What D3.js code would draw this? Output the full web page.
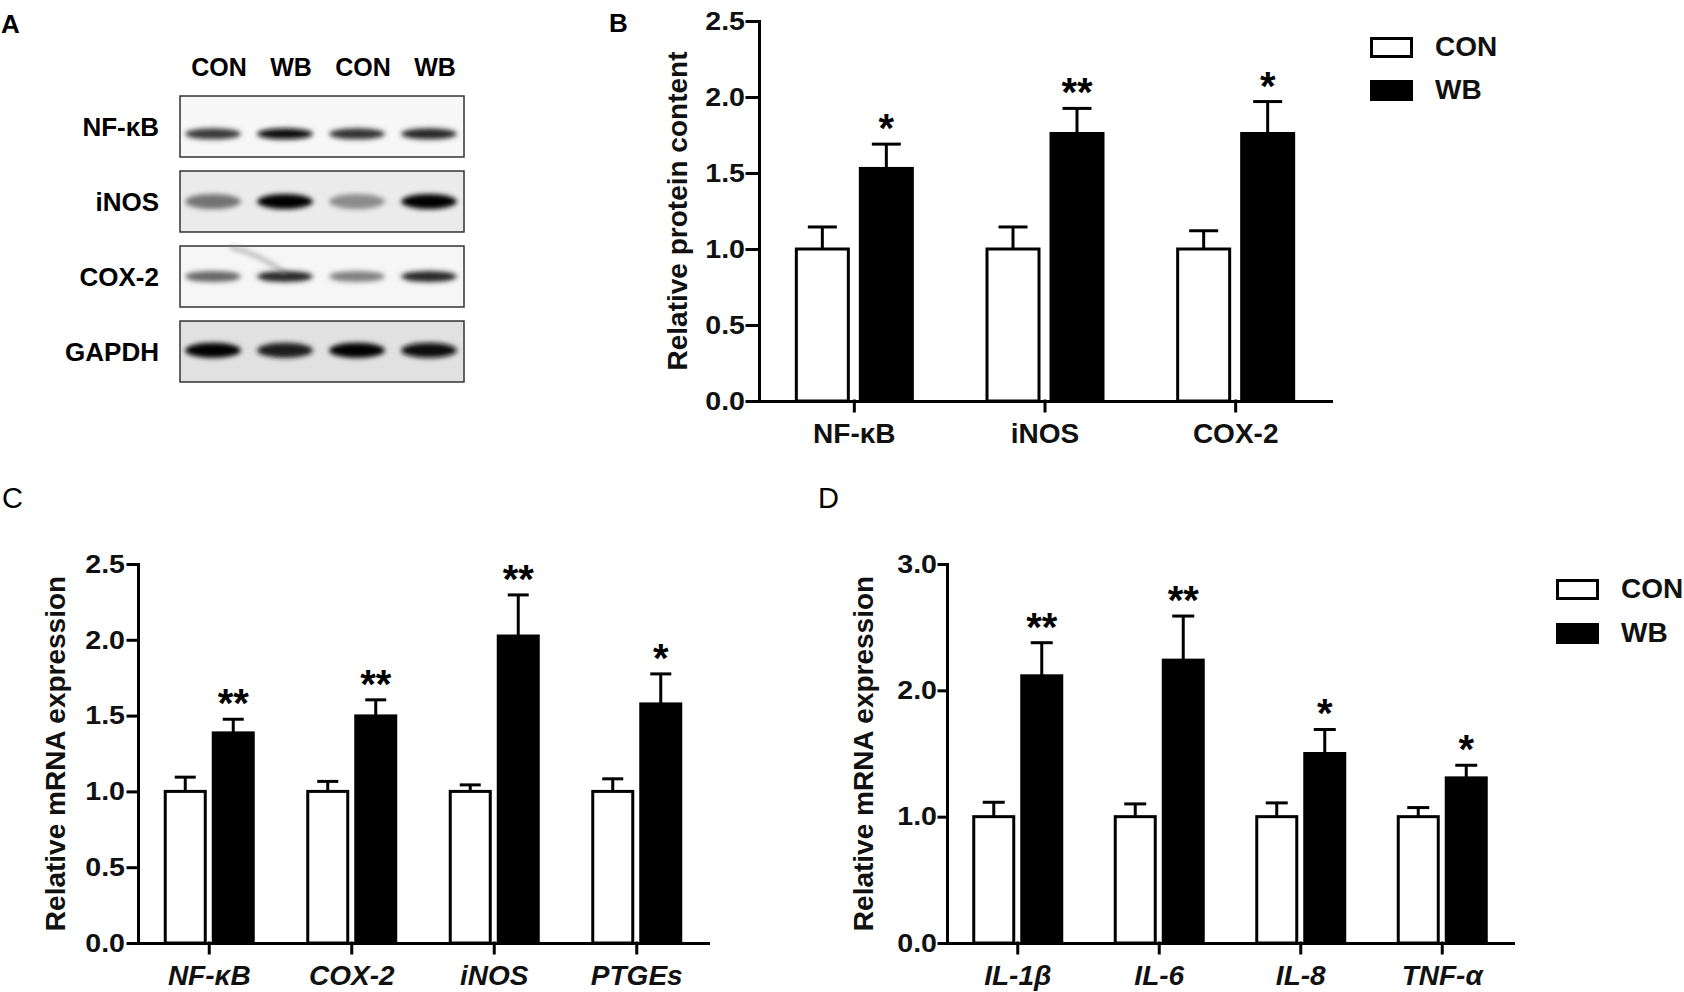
<!DOCTYPE html>
<html>
<head>
	<meta charset='utf-8'>
	<script src="https://cdnjs.cloudflare.com/ajax/libs/d3/7.8.5/d3.min.js" charset="utf-8"></script>
	<style>
	body {
		margin:0;
		background:#fff;
	}
	text {
		font-family:"Liberation Sans", Arial, sans-serif;
		font-weight:bold;
	}
	</style>
</head>

<body>
	<script>

	var width = 1684,
		height = 992;

	// panel A : blot
	var blotLanes = ['CON', 'WB', 'CON', 'WB'];
	var blotRows = ['NF-κB', 'iNOS', 'COX-2', 'GAPDH'];
	var blotDarkness = [
		[0.78, 0.95, 0.8, 0.85],
		[0.55, 1.0, 0.45, 1.0],
		[0.6, 0.85, 0.5, 0.85],
		[1.0, 0.9, 1.0, 0.95]
	];
	var blotBackground = ['#f7f7f7', '#ebebeb', '#f6f6f6', '#e1e1e1'];

	// panel B : protein
	var groups = ['CON', 'WB'];
	var proteinCats = ['NF-κB', 'iNOS', 'COX-2'];
	var proteinCon = [1.0, 1.0, 1.0];
	var proteinConErr = [0.145, 0.145, 0.12];
	var proteinWb = [1.53, 1.76, 1.76];
	var proteinWbErr = [0.16, 0.165, 0.21];
	var proteinStars = ['*', '**', '*'];
	var proteinTicks = [0, 0.5, 1.0, 1.5, 2.0, 2.5];

	// panel C : mRNA
	var mrnaCats = ['NF-κB', 'COX-2', 'iNOS', 'PTGEs'];
	var mrnaCon = [1.0, 1.0, 1.0, 1.0];
	var mrnaConErr = [0.094, 0.066, 0.043, 0.083];
	var mrnaWb = [1.386, 1.498, 2.025, 1.577];
	var mrnaWbErr = [0.09, 0.106, 0.271, 0.198];
	var mrnaStars = ['**', '**', '**', '*'];
	var mrnaTicks = [0, 0.5, 1.0, 1.5, 2.0, 2.5];

	// panel D : cytokines
	var cytoCats = ['IL-1β', 'IL-6', 'IL-8', 'TNF-α'];
	var cytoCon = [1.0, 1.0, 1.0, 1.0];
	var cytoConErr = [0.114, 0.101, 0.109, 0.072];
	var cytoWb = [2.115, 2.239, 1.5, 1.307];
	var cytoWbErr = [0.262, 0.349, 0.19, 0.1];
	var cytoStars = ['**', '**', '*', '*'];
	var cytoTicks = [0, 1.0, 2.0, 3.0];

	var svg = d3.select('body').append('svg').attr('width', width).attr('height', height);

	svg.append('defs').append('filter').attr('id', 'blur')
		.attr('x', '-50%').attr('y', '-50%').attr('width', '200%').attr('height', '200%')
		.append('feGaussianBlur').attr('stdDeviation', 2.6);

	// the figure's tick labels are a little wider than plain Arial bold
	function widen(sel, k) {
		sel.each(function () {
			var len = this.getComputedTextLength();
			d3.select(this).attr('textLength', len * k).attr('lengthAdjust', 'spacingAndGlyphs');
		});
	}

	function letter(t, x, y, size, weight) {
		svg.append('text').attr('x', x).attr('y', y)
			.style('font-size', size + 'px').style('font-weight', weight).text(t);
	}

	letter('A', 1, 33, 26, 'bold');
	letter('B', 609, 32, 26, 'bold');
	letter('C', 2, 508, 29, 'normal');
	letter('D', 818, 508, 29, 'normal');

	// ---------- A
	var laneX = d3.scalePoint().domain(d3.range(blotLanes.length)).range([219, 435]);
	var rowY = d3.scaleBand().domain(blotRows).range([96, 382]).paddingInner(0.187);
	var bandY = [0.62, 0.5, 0.5, 0.48],
		bandH = [11, 15, 11, 15];

	var blot = svg.append('g');

	blot.selectAll('.lane').data(blotLanes).enter().append('text')
		.attr('x', function (d, i) { return laneX(i); })
		.attr('y', 76)
		.attr('text-anchor', 'middle')
		.style('font-size', '25px')
		.text(function (d) { return d; });

	var rows = blot.selectAll('.row').data(blotRows).enter().append('g')
		.attr('transform', function (d) { return 'translate(0,' + rowY(d) + ')'; });

	rows.append('rect')
		.attr('x', 180).attr('y', 0).attr('width', 284).attr('height', rowY.bandwidth())
		.attr('fill', function (d, i) { return blotBackground[i]; });

	rows.each(function (d, r) {
		d3.select(this).selectAll('ellipse').data(blotDarkness[r]).enter().append('ellipse')
			.attr('cx', function (v, i) { return laneX(i) - 6; })
			.attr('cy', rowY.bandwidth() * bandY[r])
			.attr('rx', 28)
			.attr('ry', bandH[r] / 2)
			.attr('fill', function (v) { return d3.interpolateRgb('#ffffff', '#000000')(v); })
			.attr('filter', 'url(#blur)');
	});

	// smear on the COX-2 membrane
	blot.append('path')
		.attr('d', 'M230,247 Q262,255 286,274')
		.attr('fill', 'none').attr('stroke', '#888').attr('stroke-width', 4)
		.attr('opacity', 0.6).attr('filter', 'url(#blur)');

	rows.append('rect')
		.attr('x', 180).attr('y', 0).attr('width', 284).attr('height', rowY.bandwidth())
		.attr('fill', 'none').attr('stroke', '#333').attr('stroke-width', 1.5);

	rows.append('text')
		.attr('x', 159).attr('y', rowY.bandwidth() / 2).attr('dy', '0.36em')
		.attr('text-anchor', 'end')
		.style('font-size', '26px')
		.text(function (d) { return d; });

	// ---------- bar panels
	function barPanel(o) {
		var g = svg.append('g');
		var x = d3.scaleBand().domain(o.cats).range([o.left, o.right]);
		var y = d3.scaleLinear().domain([0, o.max]).range([o.bottom, o.top]);
		var off = d3.scalePoint().domain(groups).range([-o.offset, o.offset]);

		var data = [];
		o.cats.forEach(function (c, i) {
			data.push({cat: c, group: 'CON', v: o.con[i], e: o.conErr[i], star: ''});
			data.push({cat: c, group: 'WB', v: o.wb[i], e: o.wbErr[i], star: o.stars[i]});
		});
		var cx = function (d) { return x(d.cat) + x.bandwidth() / 2 + off(d.group); };

		g.selectAll('line.err').data(data).enter().append('line')
			.attr('x1', cx).attr('x2', cx)
			.attr('y1', function (d) { return y(d.v); })
			.attr('y2', function (d) { return y(d.v + d.e); })
			.attr('stroke', '#000').attr('stroke-width', 3);

		g.selectAll('line.cap').data(data).enter().append('line')
			.attr('x1', function (d) { return cx(d) - o.capW / 2; })
			.attr('x2', function (d) { return cx(d) + o.capW / 2; })
			.attr('y1', function (d) { return y(d.v + d.e); })
			.attr('y2', function (d) { return y(d.v + d.e); })
			.attr('stroke', '#000').attr('stroke-width', 3);

		g.selectAll('rect.bar').data(data).enter().append('rect')
			.attr('x', function (d) { return cx(d) - o.barW / 2; })
			.attr('width', o.barW)
			.attr('y', function (d) { return y(d.v); })
			.attr('height', function (d) { return y(0) - y(d.v); })
			.attr('fill', function (d) { return d.group == 'CON' ? '#fff' : '#000'; })
			.attr('stroke', '#000').attr('stroke-width', 3);

		g.selectAll('text.star').data(data.filter(function (d) { return d.star; })).enter().append('text')
			.attr('x', cx)
			.attr('y', function (d) { return y(d.v + d.e) - 2; })
			.attr('text-anchor', 'middle')
			.style('font-size', '40px')
			.text(function (d) { return d.star; });

		var ya = g.append('g').attr('transform', 'translate(' + o.left + ',0)')
			.call(d3.axisLeft(y).tickValues(o.ticks).tickFormat(d3.format('.1f'))
				.tickSize(o.tick).tickSizeOuter(0).tickPadding(o.pad));
		ya.attr('font-size', 26);
		ya.selectAll('.tick text').attr('fill', '#111').call(widen, 1.1);

		var xa = g.append('g').attr('transform', 'translate(0,' + o.bottom + ')')
			.call(d3.axisBottom(x).tickSize(10).tickSizeOuter(0));
		xa.attr('font-size', 28);
		xa.selectAll('.tick text').attr('y', 42).attr('dy', null).attr('fill', '#111')
			.style('font-style', o.italic ? 'italic' : 'normal');

		g.selectAll('.domain, .tick line').attr('stroke', '#000').attr('stroke-width', 3)
			.attr('stroke-linecap', 'square');

		g.append('text')
			.attr('transform', 'translate(' + o.titleX + ',' + (o.top + o.bottom) / 2 + ') rotate(-90)')
			.attr('text-anchor', 'middle')
			.style('font-size', '28px')
			.attr('fill', '#111')
			.text(o.title);
	}

	function legend(x, y0, gap, size) {
		var lg = svg.append('g').selectAll('g').data(groups).enter().append('g')
			.attr('transform', function (d, i) { return 'translate(' + x + ',' + (y0 + i * gap) + ')'; });
		lg.append('rect')
			.attr('x', 1.5).attr('y', 1.5).attr('width', 40).attr('height', 18)
			.attr('fill', function (d) { return d == 'CON' ? '#fff' : '#000'; })
			.attr('stroke', '#000').attr('stroke-width', 3);
		lg.append('text')
			.attr('x', 65).attr('y', 19)
			.style('font-size', size + 'px')
			.attr('fill', '#111')
			.text(function (d) { return d; });
	}

	barPanel({cats: proteinCats, con: proteinCon, conErr: proteinConErr, wb: proteinWb, wbErr: proteinWbErr,
		stars: proteinStars, ticks: proteinTicks, max: 2.5,
		left: 759, right: 1331, top: 21, bottom: 401,
		barW: 52, offset: 32, capW: 29, tick: 12, pad: 2,
		italic: false, titleX: 687, title: 'Relative protein content'});

	barPanel({cats: mrnaCats, con: mrnaCon, conErr: mrnaConErr, wb: mrnaWb, wbErr: mrnaWbErr,
		stars: mrnaStars, ticks: mrnaTicks, max: 2.5,
		left: 138, right: 708, top: 564, bottom: 943,
		barW: 40, offset: 24, capW: 21, tick: 10, pad: 3,
		italic: true, titleX: 65, title: 'Relative mRNA expression'});

	barPanel({cats: cytoCats, con: cytoCon, conErr: cytoConErr, wb: cytoWb, wbErr: cytoWbErr,
		stars: cytoStars, ticks: cytoTicks, max: 3.0,
		left: 947, right: 1513, top: 564, bottom: 943,
		barW: 40, offset: 24, capW: 22, tick: 8, pad: 2,
		italic: true, titleX: 873, title: 'Relative mRNA expression'});

	legend(1370, 37, 43, 28);
	legend(1556, 579, 44, 28);

	</script>
</body>

</html>
